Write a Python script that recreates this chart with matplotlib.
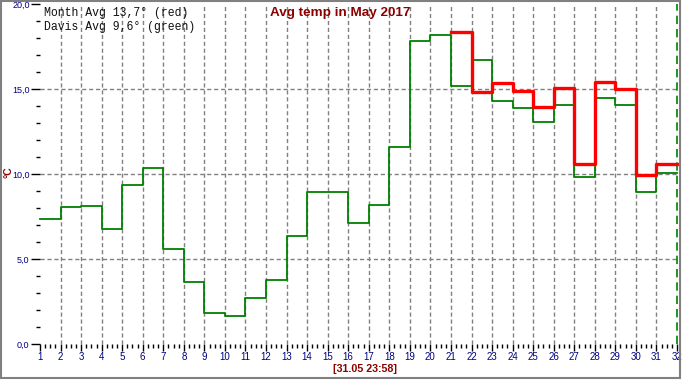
import numpy as np
import matplotlib
matplotlib.use('Agg')
import matplotlib.pyplot as plt
from matplotlib.patches import Rectangle

# daily average temperatures, May 2017
days = list(range(1, 32))
davis = [7.35, 8.04, 8.10, 6.76, 9.33, 10.33, 5.57, 3.63, 1.80, 1.63,
         2.69, 3.75, 6.33, 8.92, 8.92, 7.10, 8.16, 11.57, 17.82, 18.18,
         15.20, 16.69, 14.29, 13.86, 13.04, 14.04, 9.82, 14.45, 14.04, 8.92,
         10.04]
month_days = list(range(21, 32))
month = [18.35, 14.84, 15.37, 14.90, 13.94, 15.06, 10.59, 15.43, 15.00, 9.96,
         10.57]

title = 'Avg temp in May 2017'
legend_lines = ['Month Avg 13,7° (red)', 'Davis Avg 9,6° (green)']
stamp = '[31.05 23:58]'
y_major = [0, 5, 10, 15, 20]
x_major = list(range(1, 33))

W, H = 682, 380
fig = plt.figure(figsize=(W / 100, H / 100), dpi=100)
fig.patch.set_facecolor('white')

def fx(px):
    return px / W

def fy(py):
    return 1 - py / H

ax = fig.add_axes([fx(40), fy(344), fx(677) - fx(40), fy(4) - fy(344)])
ax.set_xlim(1, 32)
ax.set_ylim(0, 20)
for s in ax.spines.values():
    s.set_visible(False)

# grid
for d in range(2, 32):
    ax.axvline(d, color='#808080', lw=1, ls=(0, (3, 2)), zorder=1)
for v in [5, 10, 15]:
    ax.axhline(v, color='#808080', lw=1, ls=(0, (3, 2)), zorder=1)

# series as steps
ax.step(days + [32], davis + [davis[-1]], where='post', color='#008000',
        lw=1.3, zorder=3, clip_on=False)
ax.step(month_days + [32], month + [month[-1]], where='post', color='#ff0000',
        lw=2.4, zorder=4, clip_on=False)

# "now" marker
ax.axvline(32, color='#008000', lw=1.2, ls=(0, (5, 3)), zorder=2, clip_on=False)

# ticks
ax.set_yticks(y_major)
ax.set_yticks(np.arange(0, 21, 1), minor=True)
ax.set_yticklabels([f'{v:.1f}'.replace('.', ',') for v in y_major])
ax.set_xticks(x_major)
ax.set_xticks(np.arange(1, 32.01, 0.25), minor=True)
ax.set_xticklabels([str(d) for d in x_major])
ax.tick_params(axis='y', which='major', length=6.5, width=1, pad=1,
               labelsize=6.5, labelcolor='#000080', color='black')
ax.tick_params(axis='y', which='minor', length=3, width=1, color='black')
ax.tick_params(axis='x', which='major', length=5, width=1, pad=1,
               labelsize=7, labelcolor='#000080', color='black')
ax.tick_params(axis='x', which='minor', length=3, width=1, color='black')
for lab in ax.get_xticklabels() + ax.get_yticklabels():
    lab.set_family('Liberation Sans')

# texts
fig.text(fx(340), fy(13), title, ha='center', va='center', fontsize=9.7,
         fontweight='bold', color='#8b0000', family='Liberation Sans')
fig.text(fx(44), fy(13), legend_lines[0], ha='left', va='center',
         fontsize=8.3, color='#101010', family='Liberation Mono')
fig.text(fx(44), fy(27), legend_lines[1], ha='left', va='center',
         fontsize=8.3, color='#101010', family='Liberation Mono')
fig.text(fx(365), fy(369), stamp, ha='center', va='center', fontsize=7.7,
         fontweight='bold', color='#8b0000', family='Liberation Sans')
fig.text(fx(8), fy(172), '°C', ha='center', va='center', fontsize=7.5,
         fontweight='bold', rotation=90, color='#8b0000',
         family='Liberation Sans')

# outer border
fig.patches.append(Rectangle((fx(0.8), fy(378.2)), fx(680) - fx(0.8),
                             fy(0.8) - fy(378.2), transform=fig.transFigure,
                             fill=False, edgecolor='#808080', lw=1.5))

fig.savefig('out.png', dpi=100)
